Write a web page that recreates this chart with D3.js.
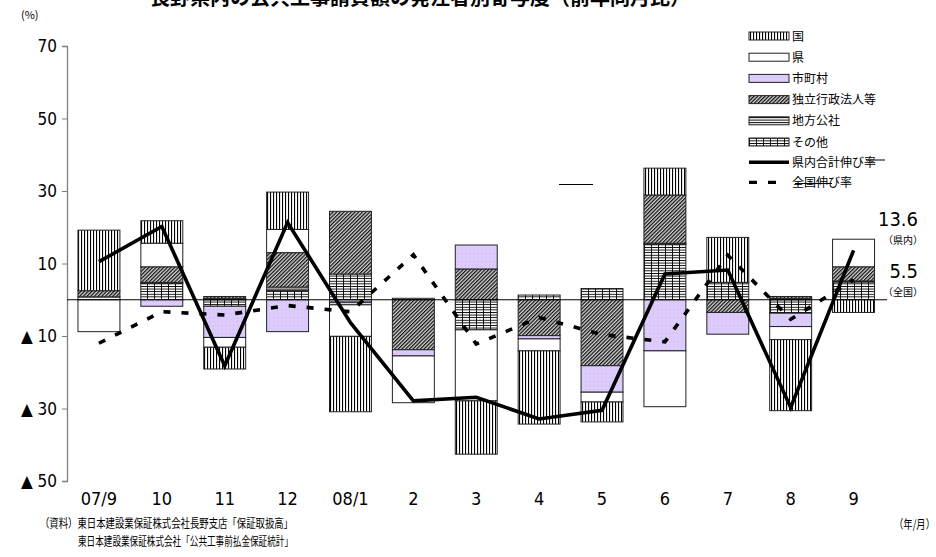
<!DOCTYPE html>
<html><head><meta charset="utf-8">
<script src="https://cdn.jsdelivr.net/npm/d3@7"></script>
<style>body{margin:0;background:#fff}svg{display:block}</style>
</head><body>
<svg id="c" width="936" height="557"></svg>
<script>
const months = ["07/9","10","11","12","08/1","2","3","4","5","6","7","8","9"];
const kuni      = [16.7, 6.2, -6.0, 10.3, -20.8, 0, -14.7, -20.2, -5.5, 7.4, 12.4, -19.6, -3.5];
const ken       = [-8.8, 6.5, -2.7, 6.4, -8.7, -12.9, -19.6, -3.3, -2.7, -15.4, 0, -3.6, 7.6];
const shichoson = [0, -1.8, -8.6, -8.8, -0.7, -1.7, 6.6, -0.9, -7.3, -14.1, -6.0, -3.7, 0];
const dokuritsu = [1.7, 4.3, 0.5, 9.5, 17.3, -13.8, 8.5, -9.9, -18.2, 13.3, -3.5, 0.5, 3.9];
const kosha     = [0.8, 0.3, 0.4, 0.9, -0.7, 0.4, 0, 0, 0, 0.3, 0, 0.4, 0.3];
const sonota    = [0, 4.5, -1.8, 2.6, 7.1, 0, -8.3, 1.3, 3.1, 15.3, 4.8, -3.7, 4.9];
const kennaiGrowth  = [10.5, 20.2, -18.2, 21.3, -6.3, -27.9, -26.9, -32.9, -30.5, 7.1, 8.2, -29.7, 13.6];
const zenkokuGrowth = [-12.0, -3.3, -4.2, -1.6, -3.3, 12.4, -12.2, -4.9, -9.6, -11.6, 12.3, -5.4, 5.5];
const seriesNames = ["国","県","市町村","独立行政法人等","地方公社","その他"];
const lineNames = ["県内合計伸び率","全国伸び率"];
const yTicks = [-50,-30,-10,10,30,50,70];
const title = "長野県内の公共工事請負額の発注者別寄与度（前年同月比）";
const endLabels = [{v:"13.6", sub:"（県内）"},{v:"5.5", sub:"（全国）"}];
const sourceLines = ["（資料）東日本建設業保証株式会社長野支店「保証取扱高」","東日本建設業保証株式会社「公共工事前払金保証統計」"];

const seriesData = {"国":kuni,"県":ken,"市町村":shichoson,"独立行政法人等":dokuritsu,"地方公社":kosha,"その他":sonota};
const stackOrder = seriesNames.slice().reverse(); // その他 at base
const rows = months.map((m,i)=>{const r={month:m}; seriesNames.forEach(s=>r[s]=seriesData[s][i]); return r;});

const svg = d3.select("#c");
const NUM = "'Liberation Sans Narrow','DejaVu Sans Condensed','Liberation Sans',sans-serif";
const JP = "'Noto Sans CJK JP','Noto Sans',sans-serif";

// patterns
const defs = svg.append("defs");
function pat(id,w,h,draw){const p=defs.append("pattern").attr("id",id).attr("patternUnits","userSpaceOnUse").attr("width",w).attr("height",h);p.append("rect").attr("width",w).attr("height",h).attr("fill","#fff");draw(p);return p;}
pat("p-kuni",3,10,p=>p.append("rect").attr("x",0).attr("y",0).attr("width",1.1).attr("height",10).attr("fill","#000"));
pat("p-shi",4,4,p=>{p.select("rect").attr("fill","#dccbfb");p.append("rect").attr("x",1).attr("y",1).attr("width",1).attr("height",1).attr("fill","#cdb8f4");});
const pd = pat("p-dok",2.6,2.6,p=>{p.select("rect").attr("fill","#d4d4d4");p.append("rect").attr("x",0).attr("y",0).attr("width",1.25).attr("height",2.6).attr("fill","#111");});
pd.attr("patternTransform","rotate(45)");
pat("p-kosha",6,2.6,p=>p.append("rect").attr("x",0).attr("y",0).attr("width",6).attr("height",1).attr("fill","#000"));
pat("p-sonota",7,2.6,p=>{p.append("rect").attr("x",0).attr("y",0).attr("width",7).attr("height",0.9).attr("fill","#000");p.append("rect").attr("x",0).attr("y",0).attr("width",0.9).attr("height",2.6).attr("fill","#000");});
const fills = {"国":"url(#p-kuni)","県":"#fff","市町村":"url(#p-shi)","独立行政法人等":"url(#p-dok)","地方公社":"url(#p-kosha)","その他":"url(#p-sonota)"};

const x = d3.scaleBand().domain(months).range([67.5,885]).paddingInner(0.333).paddingOuter(0.1665);
const y = d3.scaleLinear().domain([-50,70]).range([481,46]);

// title (cut at top)
svg.append("text").attr("x",420).attr("y",5).attr("text-anchor","middle").attr("font-family",JP).attr("font-weight","bold").attr("font-size",20).text(title);
svg.append("text").attr("x",21).attr("y",19).attr("font-family",JP).attr("font-size",11).text("(%)");

// axis
const yAxis = d3.axisLeft(y).tickValues(yTicks).tickSize(5).tickPadding(5)
  .tickFormat(v=> v<0 ? "▲ "+Math.abs(v) : String(v));
const ga = svg.append("g").attr("transform","translate(67,0)").call(yAxis);
ga.select(".domain").attr("stroke","#7f7f7f").attr("stroke-width",1.3);
ga.selectAll(".tick line").attr("stroke","#7f7f7f");
ga.selectAll(".tick text").attr("font-family",NUM).attr("font-size",17).attr("fill","#000").attr("dy","0.35em");

// bars
const stack = d3.stack().keys(stackOrder).offset(d3.stackOffsetDiverging);
const stacked = stack(rows);
const gb = svg.append("g");
stacked.forEach(layer=>{
  gb.selectAll(null).data(layer.filter(d=>d[1]!==d[0])).enter().append("rect")
    .attr("x",d=>x(d.data.month)).attr("width",x.bandwidth())
    .attr("y",d=>y(Math.max(d[0],d[1]))).attr("height",d=>Math.abs(y(d[0])-y(d[1])))
    .attr("fill",fills[layer.key]).attr("stroke","#222").attr("stroke-width",1);
});

// zero line
svg.append("line").attr("x1",67).attr("x2",887).attr("y1",y(0)).attr("y2",y(0)).attr("stroke","#000").attr("stroke-width",1);

// lines
const cx = m=>x(m)+x.bandwidth()/2;
const lineGen = d3.line().x((d,i)=>cx(months[i])).y(d=>y(d));
svg.append("path").attr("d",lineGen(kennaiGrowth)).attr("fill","none").attr("stroke","#000").attr("stroke-width",3.6).attr("stroke-linejoin","miter");
svg.append("path").attr("d",lineGen(zenkokuGrowth)).attr("fill","none").attr("stroke","#000").attr("stroke-width",3.6).attr("stroke-dasharray","7,11");

// x labels
svg.append("g").selectAll("text").data(months).enter().append("text")
  .attr("x",d=>cx(d)).attr("y",505).attr("text-anchor","middle").attr("font-family",NUM).attr("font-size",18).text(d=>d);

// legend
const lg = svg.append("g");
const lx = 749, ly0 = 36, lstep = 21.2;
seriesNames.forEach((s,i)=>{
  const yy = ly0 + i*lstep;
  lg.append("rect").attr("x",lx).attr("y",yy-4).attr("width",40).attr("height",8).attr("fill",fills[s]).attr("stroke","#222").attr("stroke-width",1);
  lg.append("text").attr("x",lx+43).attr("y",yy+4.5).attr("font-family",JP).attr("font-size",12).text(s);
});
lineNames.forEach((s,i)=>{
  const yy = ly0 + (6+i)*lstep - (i?2:1);
  const ln = lg.append("line").attr("x1",lx).attr("x2",lx+40).attr("y1",yy).attr("y2",yy).attr("stroke","#000").attr("stroke-width",3.4);
  if(i) ln.attr("x2",lx+28).attr("stroke-dasharray","8,11");
  lg.append("text").attr("x",lx+43).attr("y",yy+4.5).attr("font-family",JP).attr("font-size",12).text(s);
});
// stray strokes seen in the original image
lg.append("line").attr("x1",866).attr("x2",885).attr("y1",160).attr("y2",160).attr("stroke","#000").attr("stroke-width",1);
lg.append("line").attr("x1",795).attr("x2",832).attr("y1",183.5).attr("y2",183.5).attr("stroke","#000").attr("stroke-width",1);
svg.append("line").attr("x1",559).attr("x2",593).attr("y1",184.5).attr("y2",184.5).attr("stroke","#000").attr("stroke-width",1);

// end labels
endLabels.forEach((e,i)=>{
  const base = i===0 ? 226 : 278;
  svg.append("text").attr("x",918).attr("y",base).attr("text-anchor","end").attr("font-family",NUM).attr("font-size",20).text(e.v);
  svg.append("text").attr("x",923).attr("y",base+18).attr("text-anchor","end").attr("font-family",JP).attr("font-size",10).text(e.sub);
});

// source
svg.append("text").attr("x",40).attr("y",528).attr("font-family",JP).attr("font-size",12).attr("textLength",253).attr("lengthAdjust","spacingAndGlyphs").text(sourceLines[0]);
svg.append("text").attr("x",78).attr("y",546).attr("font-family",JP).attr("font-size",12).attr("textLength",215).attr("lengthAdjust","spacingAndGlyphs").text(sourceLines[1]);
svg.append("text").attr("x",935).attr("y",529).attr("text-anchor","end").attr("font-family",JP).attr("font-size",12).attr("textLength",41).attr("lengthAdjust","spacingAndGlyphs").text("（年/月）");
</script>
</body></html>
